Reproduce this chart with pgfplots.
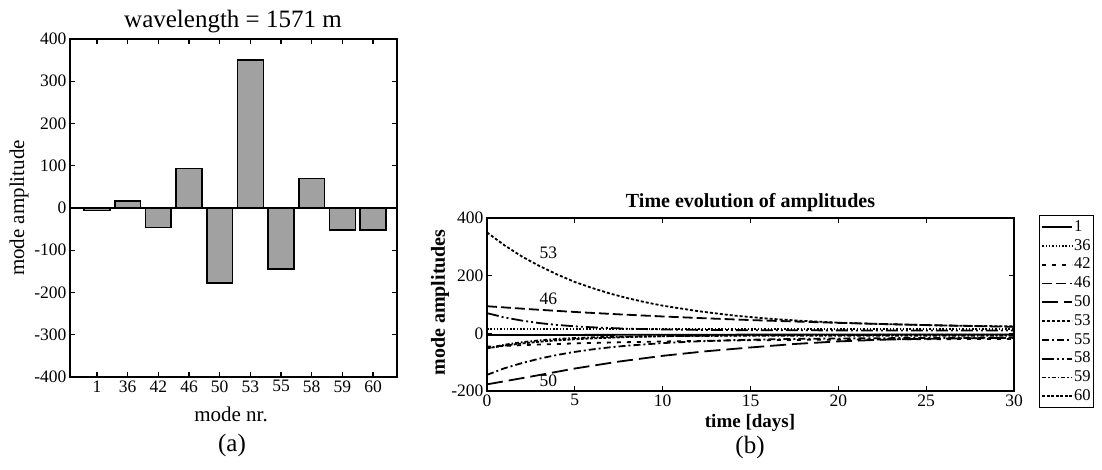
\documentclass[border=0pt]{standalone}
\usepackage{fontspec}
\setmainfont{Liberation Serif}
\usepackage{pgfplots}
\pgfplotsset{compat=1.18}
\begin{document}
\begin{tikzpicture}
\useasboundingbox (0pt,0pt) rectangle (1102pt,470pt);
\pgfplotsset{
  mystyle/.style={
    scale only axis,
    axis line style={line width=1.5pt},
    tick align=inside,
    major tick length=5pt,
    every tick/.style={line width=1.3pt, black},
    tick label style={font=\fontsize{17.5}{17.5}\selectfont},
    /pgf/number format/assume math mode=true,
  }
}
% ---------------- (a) bar chart ----------------
\begin{axis}[mystyle, at={(70pt,93pt)}, anchor=south west,
  width=327pt, height=338pt,
  xmin=0.12, xmax=10.78, ymin=-400, ymax=400,
  xtick={1,2,3,4,5,6,7,8,9,10},
  xticklabels={1,36,42,46,50,53,55,58,59,60},
  ytick={-400,-300,-200,-100,0,100,200,300,400},
]
\addplot[ybar, bar width=0.84, bar shift=0pt, fill=black!37, draw=black, line width=1.5pt]
  coordinates {(1,-6)(2,16)(3,-46)(4,94)(5,-177)(6,350)(7,-144)(8,70)(9,-52)(10,-52)};
\addplot[black, line width=1.7pt, sharp plot] coordinates {(0.12,0)(10.78,0)};
\end{axis}
\node[anchor=base, font=\fontsize{25}{25}\selectfont] at (233pt,442pt) {wavelength = 1571 m};
\node[rotate=90, font=\fontsize{21}{21}\selectfont] at (19pt,262pt) {mode amplitude};
\node[anchor=base, font=\fontsize{21}{21}\selectfont] at (231pt,48pt) {mode nr.};
\node[anchor=base, font=\fontsize{25}{25}\selectfont] at (232pt,18pt) {(a)};
% ---------------- (b) time evolution ----------------
\begin{axis}[mystyle, at={(487pt,79pt)}, anchor=south west,
  width=527pt, height=173pt,
  xmin=0, xmax=30, ymin=-200, ymax=400,
  xtick={0,5,10,15,20,25,30},
  ytick={-200,0,200,400},
  legend style={at={(1.047,1.017)}, anchor=north west, draw=black, line width=1.3pt,
    font=\fontsize{16.5}{16.5}\selectfont, inner sep=2pt, row sep=0pt,
    nodes={inner sep=1pt, text height=12.5pt, text depth=4.3pt}},
  legend cell align=left,
  legend image code/.code={\draw[#1] (0pt,0pt) -- (30pt,0pt);},
]
% 1
\addplot[black, line width=1.8pt, solid] coordinates {
(0,-6)(5,-5.5)(10,-5)(15,-4.5)(20,-4)(25,-4)(30,-4)};
% 36
\addplot[black, line width=1.8pt, dash pattern=on 1.5pt off 1.8pt] coordinates {
(0,16)(5,16)(10,16)(15,16)(20,16)(25,16)(30,16)};
% 42
\addplot[black, line width=1.8pt, dash pattern=on 4pt off 6pt] coordinates {
(0,-46)(2.5,-39.8)(5,-35)(7.5,-31.2)(10,-28.3)(12.5,-26)(15,-24.2)(17.5,-22.9)(20,-21.8)(22.5,-20.9)(25,-20.3)(27.5,-19.8)(30,-19.4)};
% 46
\addplot[black, line width=1.8pt, dash pattern=on 10pt off 4pt] coordinates {
(0,94)(2.5,83.5)(5,74)(7.5,65.9)(10,58.5)(12.5,52)(15,46)(17.5,41)(20,36.3)(22.5,32.3)(25,28.7)(27.5,25.5)(30,22.6)};
% 50
\addplot[black, line width=1.8pt, dash pattern=on 16pt off 6pt] coordinates {
(0,-177)(2.5,-150)(5,-122)(7.5,-98)(10,-78)(12.5,-62)(15,-49)(17.5,-37)(20,-28)(22.5,-22)(25,-19)(27.5,-17)(30,-16)};
% 53
\addplot[black, line width=1.8pt, dash pattern=on 3pt off 2pt] coordinates {
(0,350)(1,305)(2,266)(3,233)(4,204)(5,178)(6,157)(7,138)(8,122)(9,108)(10,96)(12,77)(14,62)(16,51)(18,43)(20,37)(22,33)(24,30)(26,27)(28,25.4)(30,24)};
% 55
\addplot[black, line width=1.8pt, dash pattern=on 7pt off 3pt on 2pt off 3pt] coordinates {
(0,-144)(1,-121)(2,-103)(3,-87.5)(4,-74.8)(5,-64.3)(6,-55.7)(7,-48.5)(8,-42.7)(10,-33.8)(12,-27.8)(14,-23.7)(16,-20.9)(18,-19)(20,-17.8)(25,-16)(30,-15.3)};
% 58
\addplot[black, line width=1.8pt, dash pattern=on 12pt off 3pt on 2pt off 3pt on 2pt off 3pt] coordinates {
(0,70)(1,55)(2,44)(3,35.4)(4,29)(5,24.4)(6,20.8)(8,16)(10,13.5)(12,12)(15,10.8)(20,10.2)(25,10)(30,10)};
% 59
\addplot[black, line width=1.8pt, dash pattern=on 4pt off 2pt on 1.5pt off 2pt] coordinates {
(0,-52)(1,-39.5)(2,-30.6)(3,-24.2)(4,-19.6)(5,-16.3)(6,-13.9)(8,-11.1)(10,-9.6)(15,-8.3)(20,-8)(30,-8)};
% 60
\addplot[black, line width=1.8pt, dash pattern=on 3pt off 1.5pt] coordinates {
(0,-52)(1,-42.6)(2,-35.1)(3,-29.1)(4,-24.3)(5,-20.5)(6,-17.4)(8,-12.9)(10,-10.1)(12,-8.3)(15,-6.7)(20,-5.6)(25,-5.2)(30,-5)};
\legend{1,36,42,46,50,53,55,58,59,60}
\node[font=\fontsize{17.5}{17.5}\selectfont] at (axis cs:3.5,281) {53};
\node[font=\fontsize{17.5}{17.5}\selectfont] at (axis cs:3.5,121) {46};
\node[font=\fontsize{17.5}{17.5}\selectfont] at (axis cs:3.5,-166) {50};
\end{axis}
\node[anchor=base, font=\bfseries\fontsize{20}{20}\selectfont] at (750.5pt,262pt) {Time evolution of amplitudes};
\node[rotate=90, font=\bfseries\fontsize{20}{20}\selectfont] at (440pt,167.5pt) {mode amplitudes};
\node[anchor=base, font=\bfseries\fontsize{19}{19}\selectfont] at (750pt,42pt) {time [days]};
\node[anchor=base, font=\fontsize{25}{25}\selectfont] at (750pt,16pt) {(b)};
\end{tikzpicture}
\end{document}
